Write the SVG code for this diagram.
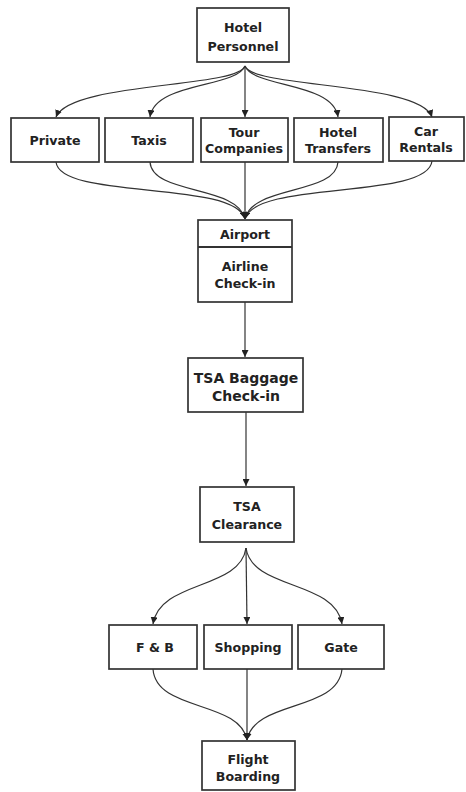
<svg xmlns="http://www.w3.org/2000/svg" width="466" height="792" viewBox="0 0 466 792">
<style>
.box{fill:#fff;stroke:#333;stroke-width:1.7}
.t{font-family:"DejaVu Sans",Verdana,sans-serif;font-weight:bold;font-size:12.6px;fill:#222;text-anchor:middle}
.big{font-size:14px}
.c{fill:none;stroke:#333;stroke-width:1.2}
</style>
<defs>
<marker id="ah" viewBox="0 0 10 10" refX="10" refY="5" markerWidth="7" markerHeight="7" orient="auto" markerUnits="userSpaceOnUse">
<path d="M0,0 L10,5 L0,10 z" fill="#222"/>
</marker>
</defs>
<rect width="466" height="792" fill="#fff"/>
<g id="connectors">
<path class="c" d="M245,66 C238,88 70,82 56,117" marker-end="url(#ah)"/>
<path class="c" d="M245,66 C236,88 155,82 150,117" marker-end="url(#ah)"/>
<path class="c" d="M245,66 L245,117" marker-end="url(#ah)"/>
<path class="c" d="M245,66 C254,88 333,82 338,117" marker-end="url(#ah)"/>
<path class="c" d="M245,66 C252,88 420,82 432,117" marker-end="url(#ah)"/>
<path class="c" d="M56,162 C60,200 235,180 245,219" marker-end="url(#ah)"/>
<path class="c" d="M150,162 C152,195 238,185 245,219" marker-end="url(#ah)"/>
<path class="c" d="M245,162 L245,219" marker-end="url(#ah)"/>
<path class="c" d="M338,162 C336,195 252,185 245,219" marker-end="url(#ah)"/>
<path class="c" d="M432,161 C428,200 255,180 245,219" marker-end="url(#ah)"/>
<path class="c" d="M245,302 L245,357" marker-end="url(#ah)"/>
<path class="c" d="M246,412 L246,486" marker-end="url(#ah)"/>
<path class="c" d="M246,548 C240,590 160,580 153,624" marker-end="url(#ah)"/>
<path class="c" d="M246,548 L247,624" marker-end="url(#ah)"/>
<path class="c" d="M246,548 C252,590 335,580 342,624" marker-end="url(#ah)"/>
<path class="c" d="M153,669 C156,712 240,700 247,740" marker-end="url(#ah)"/>
<path class="c" d="M247,669 L247,740" marker-end="url(#ah)"/>
<path class="c" d="M342,669 C338,712 254,700 247,740" marker-end="url(#ah)"/>
</g>
<g id="hotel-personnel">
<rect class="box" x="197" y="8" width="92" height="54"/>
<text class="t" x="243" y="32">Hotel</text>
<text class="t" x="243" y="51">Personnel</text>
</g>
<g id="private">
<rect class="box" x="11" y="118" width="88" height="44"/>
<text class="t" x="55" y="145">Private</text>
</g>
<g id="taxis">
<rect class="box" x="105" y="118" width="88" height="44"/>
<text class="t" x="149" y="145">Taxis</text>
</g>
<g id="tour-companies">
<rect class="box" x="201" y="118" width="87" height="44"/>
<text class="t" x="244" y="137">Tour</text>
<text class="t" x="244" y="153">Companies</text>
</g>
<g id="hotel-transfers">
<rect class="box" x="294" y="118" width="89" height="44"/>
<text class="t" x="338" y="137">Hotel</text>
<text class="t" x="338" y="153">Transfers</text>
</g>
<g id="car-rentals">
<rect class="box" x="389" y="117" width="75" height="44"/>
<text class="t" x="426" y="136">Car</text>
<text class="t" x="426" y="152">Rentals</text>
</g>
<g id="airport">
<rect class="box" x="198" y="220" width="94" height="82"/>
<line x1="198" y1="247" x2="292" y2="247" stroke="#333" stroke-width="2"/>
<text class="t" x="245" y="239">Airport</text>
<text class="t" x="245" y="271">Airline</text>
<text class="t" x="245" y="288">Check-in</text>
</g>
<g id="tsa-baggage">
<rect class="box" x="188" y="358" width="115" height="54"/>
<text class="t big" x="246" y="383">TSA Baggage</text>
<text class="t big" x="246" y="401">Check-in</text>
</g>
<g id="tsa-clearance">
<rect class="box" x="200" y="487" width="94" height="55"/>
<text class="t" x="247" y="511">TSA</text>
<text class="t" x="247" y="529">Clearance</text>
</g>
<g id="fb">
<rect class="box" x="109" y="625" width="88" height="44"/>
<text class="t" x="155" y="652">F &amp; B</text>
</g>
<g id="shopping">
<rect class="box" x="204" y="625" width="88" height="44"/>
<text class="t" x="248" y="652">Shopping</text>
</g>
<g id="gate">
<rect class="box" x="298" y="625" width="86" height="44"/>
<text class="t" x="341" y="652">Gate</text>
</g>
<g id="flight-boarding">
<rect class="box" x="202" y="741" width="93" height="49"/>
<text class="t" x="248" y="764">Flight</text>
<text class="t" x="248" y="781">Boarding</text>
</g>
</svg>
